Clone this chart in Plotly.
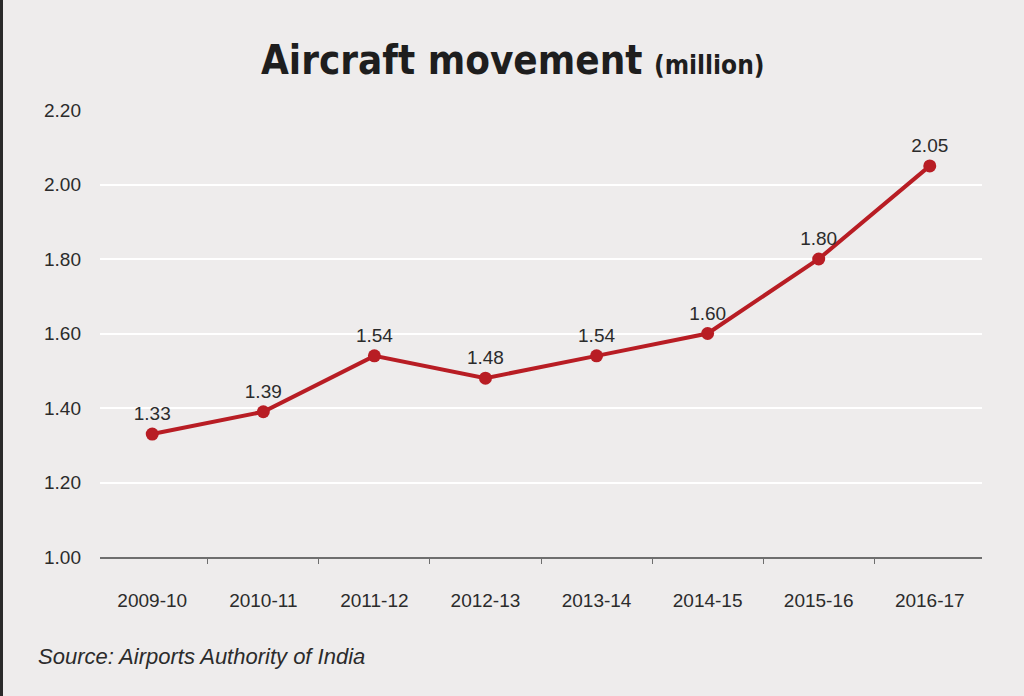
import plotly.graph_objects as go

years = ["2009-10", "2010-11", "2011-12", "2012-13", "2013-14", "2014-15", "2015-16", "2016-17"]
movement = [1.33, 1.39, 1.54, 1.48, 1.54, 1.60, 1.80, 2.05]
y_ticks = [1.00, 1.20, 1.40, 1.60, 1.80, 2.00, 2.20]

W, H = 1024, 696
M = dict(l=100, r=42, t=110, b=139)
pw = W - M["l"] - M["r"]
ph = H - M["t"] - M["b"]

bg = "#EEECEC"
red = "#B81D24"
narrow = "Liberation Sans Narrow, Arial Narrow, Liberation Sans, Arial, sans-serif"

fig = go.Figure()
fig.add_scatter(
    x=years, y=movement, mode="lines+markers+text",
    line=dict(color=red, width=4),
    marker=dict(color=red, size=13),
    text=["%.2f" % v for v in movement],
    textposition="top center",
    textfont=dict(family=narrow, size=19, color="#2b2b2b"),
    cliponaxis=False, showlegend=False,
)

fig.update_layout(
    width=W, height=H, margin=M,
    paper_bgcolor=bg, plot_bgcolor=bg,
    font=dict(family=narrow, size=18, color="#2b2b2b"),
    xaxis=dict(
        type="category",
        showgrid=False, showline=True, linecolor="#6e6e6e", linewidth=2,
        ticks="outside", tickson="boundaries", ticklen=5, tickcolor="#6e6e6e",
        tickfont=dict(size=19), ticklabelstandoff=25,
    ),
    yaxis=dict(
        range=[1.0, 2.2], tickvals=y_ticks, tickformat=".2f",
        showgrid=True, gridcolor="#ffffff", gridwidth=1.5,
        zeroline=False, showline=False, ticks="", ticklabelstandoff=18,
        tickfont=dict(size=19),
    ),
)

fig.add_annotation(
    xref="paper", yref="paper", x=(512 - M["l"]) / pw, y=(H - 60 - M["b"]) / ph,
    xanchor="center", yanchor="middle", showarrow=False,
    text="<b>Aircraft movement</b> <span style='font-size:26px'><b>(million)</b></span>",
    font=dict(family="DejaVu Sans Condensed, sans-serif", size=40, color="#1e1e1e"),
)
fig.add_annotation(
    xref="paper", yref="paper", x=(36 - M["l"]) / pw, y=(H - 656 - M["b"]) / ph,
    xanchor="left", yanchor="middle", showarrow=False,
    text="<i>Source: Airports Authority of India</i>",
    font=dict(family=narrow, size=22, color="#2b2b2b"),
)
fig.add_shape(
    type="line", xref="paper", yref="paper",
    x0=(1.5 - M["l"]) / pw, x1=(1.5 - M["l"]) / pw,
    y0=-M["b"] / ph, y1=(H - M["b"]) / ph,
    line=dict(color="#2a2a2a", width=3),
)

fig.write_html("out.html", config={"displayModeBar": False},
               post_script="document.body.style.margin='0px';")
